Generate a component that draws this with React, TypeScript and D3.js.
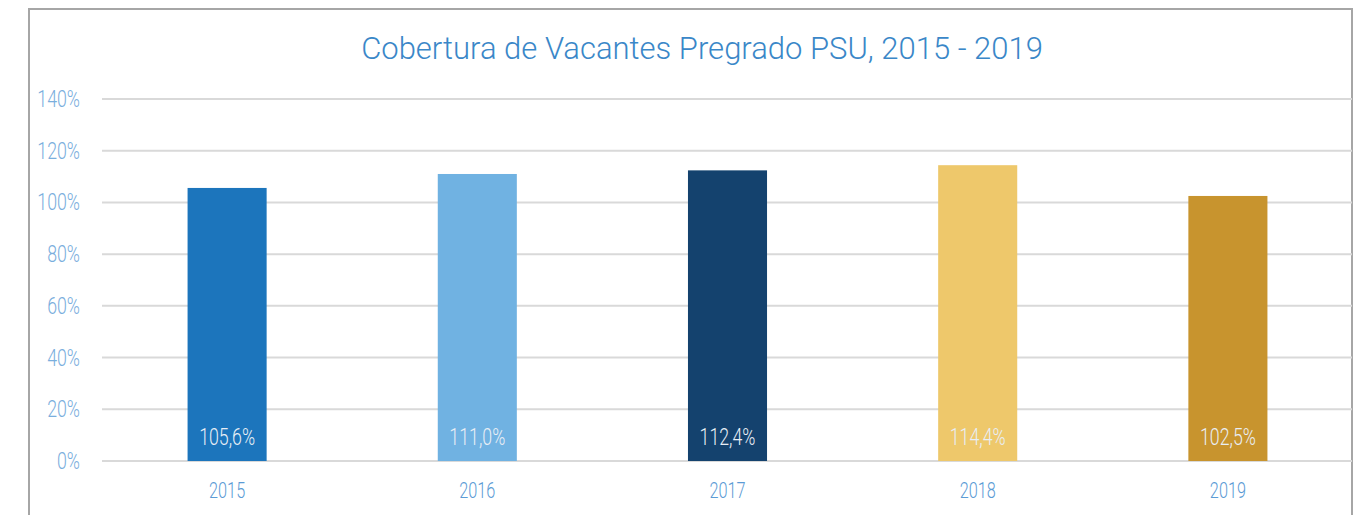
import React from "react";
import * as d3 from "d3";

const years = ["2015", "2016", "2017", "2018", "2019"];
const values = [105.6, 111.0, 112.4, 114.4, 102.5];
const valueLabels = ["105,6%", "111,0%", "112,4%", "114,4%", "102,5%"];
const barColors = ["#1c75bc", "#70b2e2", "#14426e", "#eec86b", "#c8942e"];
const yTicks = [0, 20, 40, 60, 80, 100, 120, 140];
const title = "Cobertura de Vacantes Pregrado PSU, 2015 - 2019";

const W = 1365, H = 515;
const FONT = "Roboto, 'Noto Sans', sans-serif";
const SX = 0.74;

function CText({ x, y, anchor, size, fill, children, sx = SX, weight = 300 }: any) {
  return (
    <g transform={`translate(${x},${y}) scale(${sx},1)`}>
      <text textAnchor={anchor} fontSize={size} fill={fill} fontFamily={FONT} fontWeight={weight}>
        {children}
      </text>
    </g>
  );
}

export default function App() {
  const x = d3.scaleBand<string>().domain(years).range([102, 1353]).paddingInner(0.684).paddingOuter(0.342);
  const y = d3.scaleLinear().domain([0, 140]).range([461, 99]);
  return (
    <svg width={W} height={H} style={{ position: "absolute", left: 0, top: 0 }}>
      <rect x={0} y={0} width={W} height={H} fill="#ffffff" />
      <rect x={29} y={9} width={1323} height={H + 20} fill="none" stroke="#a6a6a6" strokeWidth={2} />
      <CText x={702} y={59} anchor="middle" size={31} fill="#3a87c8" sx={1.0}>{title}</CText>
      {yTicks.map((t) => (
        <g key={t}>
          <line x1={102} x2={1352} y1={y(t)} y2={y(t)} stroke="#d9d9d9" strokeWidth={2} />
          <CText x={80} y={y(t) + 8} anchor="end" size={24} fill="#7aaedd">{`${t}%`}</CText>
        </g>
      ))}
      {years.map((yr, i) => (
        <g key={yr}>
          <rect x={x(yr)} y={y(values[i])} width={x.bandwidth()} height={y(0) - y(values[i])} fill={barColors[i]} />
          <CText x={(x(yr) as number) + x.bandwidth() / 2} y={445} anchor="middle" size={24} fill="#e8eef5">{valueLabels[i]}</CText>
          <CText x={(x(yr) as number) + x.bandwidth() / 2} y={498} anchor="middle" size={22} fill="#5b9bd5">{yr}</CText>
        </g>
      ))}
    </svg>
  );
}
